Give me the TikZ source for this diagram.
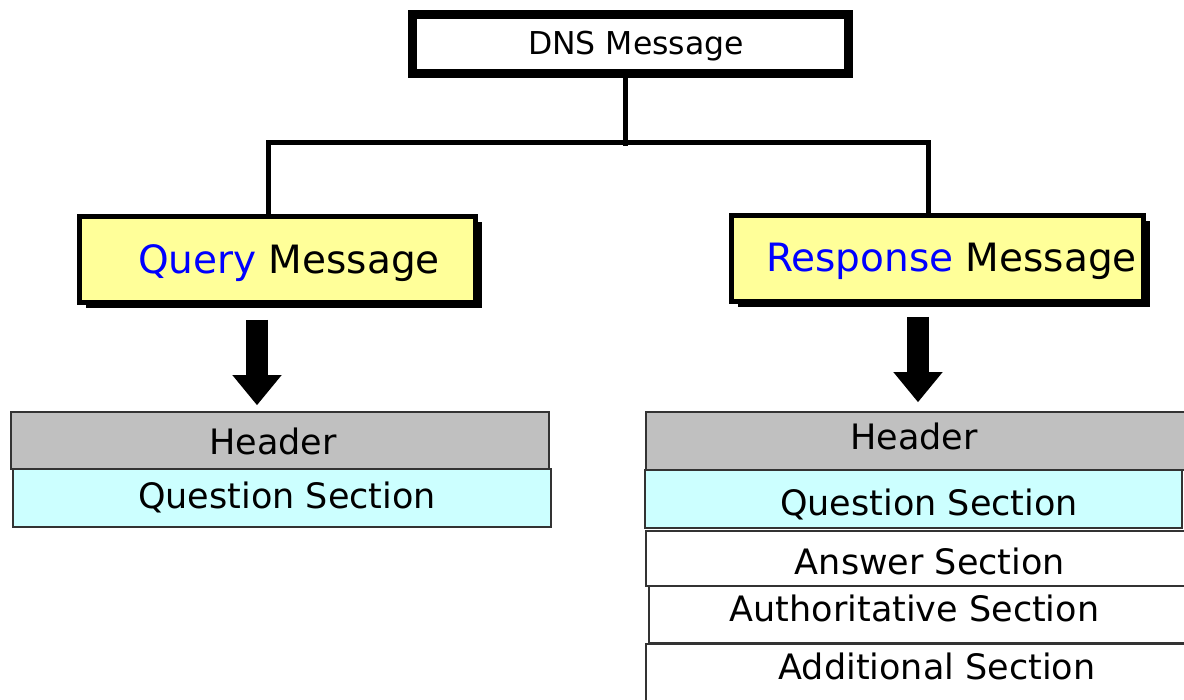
\documentclass[tikz,border=0pt]{standalone}
\usepackage{fontspec}
\setmainfont{DejaVu Sans}
\usetikzlibrary{arrows.meta,shadows}
\definecolor{msgyellow}{HTML}{FFFF99}
\definecolor{qcyan}{HTML}{CCFFFF}
\definecolor{hdrgray}{HTML}{C0C0C0}
\definecolor{edgegray}{HTML}{333333}
\definecolor{kwblue}{HTML}{0000FF}

\begin{document}
\begin{tikzpicture}[x=1pt,y=-1pt,
  captext/.style={inner sep=0pt, text height={0.729*#1}, text depth=0pt,
    font=\fontsize{#1}{#1}\selectfont},
  topbox/.style={draw=black, line width=9pt, fill=white, inner sep=0pt},
  msgbox/.style={draw=black, line width=5pt, fill=msgyellow, inner sep=0pt,
    drop shadow={fill=black, opacity=1, shadow xshift=6pt, shadow yshift=-6pt}},
  sectbox/.style={draw=edgegray, line width=1.5pt, inner sep=0pt},
  bus/.style={line width=5pt, line join=miter},
  blockarrow/.style={line width=22pt, -{Triangle[width=47pt 0 0, length=30pt 0 0]}}
]
\clip (0,0) rectangle (1184,700);
\fill[white] (0,0) rectangle (1184,700);

% top of the tree
\node[topbox, minimum width=436pt, minimum height=59pt] (dns) at (630.5,44) {};
\node[captext=31.5] (dnstxt) at (636,43) {DNS Message};

% the two kinds of message
\node[msgbox, minimum width=396pt, minimum height=86pt] (qmsg) at (277.5,259.5) {};
\node[captext=39] (qtxt) at (289,259) {\textcolor{kwblue}{Query} Message};
\node[msgbox, minimum width=412pt, minimum height=86pt] (rmsg) at (937.5,258.5) {};
\node[captext=39] (rtxt) at (951.5,257) {\textcolor{kwblue}{Response} Message};

% branching lines
\coordinate (busM) at (625,143);
\coordinate (busL) at (268,143);
\coordinate (busR) at (928,143);
\draw[bus] (dns.south -| busM) -- ([yshift=-3pt]busM);
\draw[bus] (qmsg.north -| busL) -- (busL) -- (busR) -- (rmsg.north -| busR);

% query layout
\node[sectbox, fill=hdrgray, minimum width=538pt, minimum height=57pt] (hdrL) at (280,440.5) {};
\node[sectbox, fill=qcyan, minimum width=538pt, minimum height=58pt] (qsecL) at (282,498) {};
\node[captext=35] (hdrLtxt) at (273,442) {Header};
\node[captext=35] (qsecLtxt) at (287,496) {Question Section};

% response layout
\node[sectbox, fill=hdrgray, minimum width=544pt, minimum height=58pt] (hdrR) at (918,441) {};
\node[sectbox, fill=qcyan, minimum width=537pt, minimum height=58pt] (qsecR) at (913.5,499) {};
\node[sectbox, fill=white, minimum width=544pt, minimum height=55pt] (ansR) at (918,558.5) {};
\node[sectbox, fill=white, minimum width=541pt, minimum height=57pt] (authR) at (919.5,614.5) {};
\node[sectbox, fill=white, minimum width=544pt, minimum height=66pt] (addR) at (918,677) {};
\node[captext=35] (hdrRtxt) at (914,437) {Header};
\node[captext=35] (qsecRtxt) at (929,503) {Question Section};
\node[captext=35] (ansRtxt) at (930,562) {Answer Section};
\node[captext=35] (authRtxt) at (914.5,609) {Authoritative Section};
\node[captext=35] (addRtxt) at (937,667) {Additional Section};

% arrows from message to layout
\coordinate (aL) at (257,320);
\coordinate (aR) at (918,317);
\draw[blockarrow, shorten >=6pt] (aL) -- (aL |- hdrL.north);
\draw[blockarrow, shorten >=9pt] (aR) -- (aR |- hdrR.north);
\end{tikzpicture}
\end{document}
